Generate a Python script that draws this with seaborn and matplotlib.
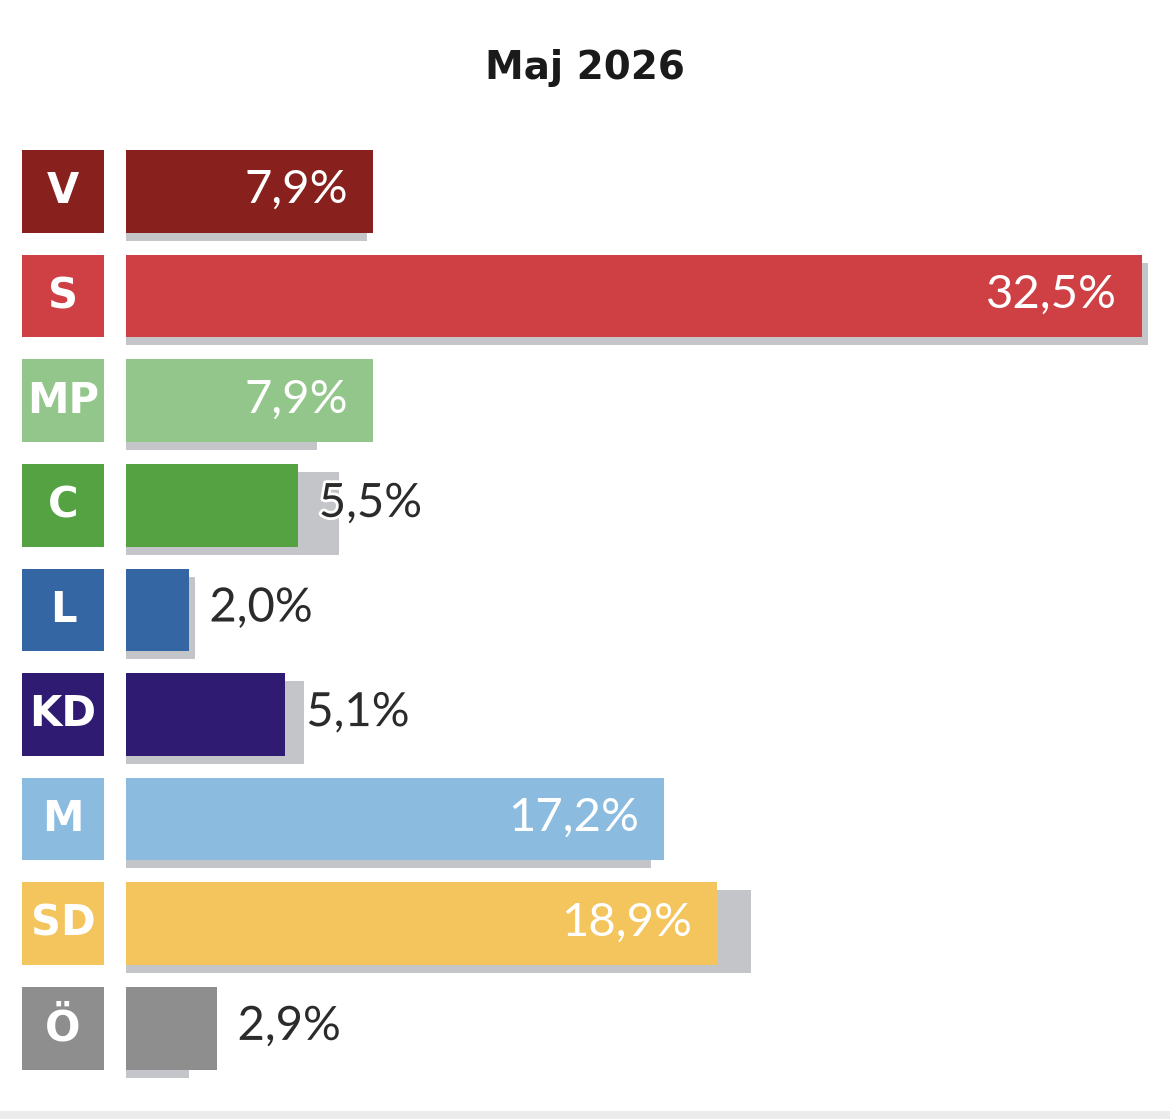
import numpy as np
import pandas as pd
import seaborn as sns
import matplotlib.pyplot as plt
import matplotlib.patheffects as pe
from matplotlib.transforms import ScaledTranslation
from matplotlib.patches import Rectangle

# Data
parties = ['V', 'S', 'MP', 'C', 'L', 'KD', 'M', 'SD', 'Ö']
current = [7.9, 32.5, 7.9, 5.5, 2.0, 5.1, 17.2, 18.9, 2.9]
previous = [7.7, 32.7, 6.1, 6.8, 2.2, 5.7, 16.8, 20.0, 2.0]
colors = ['#88211e', '#cf4044', '#93c68a', '#55a243', '#3566a4',
          '#2f1c72', '#8bbbde', '#f4c45d', '#8e8e8e']
title = 'Maj 2026'

df = pd.DataFrame({'party': parties, 'current': current, 'previous': previous})
palette = dict(zip(parties, colors))

sns.set_style('white')
plt.rcParams['font.family'] = ['DejaVu Sans']

W, H, DPI = 1170, 1119, 100
fig = plt.figure(figsize=(W / DPI, H / DPI), dpi=DPI)

# layout in pixels
top_px, bot_px = 130, 1090
first_c, pitch = 191.5, 104.6
px_per_pct = 31.26
ylim = ((bot_px - first_c) / pitch, (top_px - first_c) / pitch)
ax_rect_y = (1 - bot_px / H, (bot_px - top_px) / H)

ax = fig.add_axes([126 / W, ax_rect_y[0], (W - 126) / W, ax_rect_y[1]])
box_ax = fig.add_axes([22 / W, ax_rect_y[0], 82 / W, ax_rect_y[1]])

# previous (grey shadow), shifted 8 px down
sns.barplot(data=df, x='previous', y='party', color='#c4c5c8', width=0.79,
            saturation=1, ax=ax)
shift = ScaledTranslation(0, -8 / DPI, fig.dpi_scale_trans)
for p in ax.patches:
    p.set_transform(ax.transData + shift)
    p.set_edgecolor('none')
n_prev = len(ax.patches)

# current
sns.barplot(data=df, x='current', y='party', hue='party', palette=palette,
            width=0.79, saturation=1, legend=False, ax=ax)
for p in ax.patches[n_prev:]:
    p.set_edgecolor('none')

ax.set_xlim(0, (W - 126) / px_per_pct)
ax.set_ylim(*ylim)
ax.axis('off')

# value labels
lab_font = dict(fontsize=34, family=['Lato', 'DejaVu Sans'], fontweight='normal')
for i, v in enumerate(current):
    txt = f'{v:.1f}%'.replace('.', ',')
    if v >= 7:
        ax.annotate(txt, (v, i), xytext=(-18, 1), textcoords='offset points',
                    ha='right', va='center', color='white', **lab_font)
    else:
        t = ax.annotate(txt, (v, i), xytext=(15, 1), textcoords='offset points',
                        ha='left', va='center', color='#2b2b2b', **lab_font)
        t.set_path_effects([pe.withStroke(linewidth=4, foreground='white')])

# party boxes
sns.barplot(x=[1] * len(parties), y=parties, hue=parties, palette=palette,
            width=0.79, saturation=1, legend=False, ax=box_ax)
for p in box_ax.patches:
    p.set_edgecolor('none')
box_ax.set_xlim(0, 1)
box_ax.set_ylim(*ylim)
box_ax.axis('off')
for i, name in enumerate(parties):
    box_ax.text(0.5, i, name, ha='center', va='center', color='white',
                fontsize=30, fontweight='bold')

fig.text(585 / W, 1 - 68 / H, title, ha='center', va='center',
         fontsize=28, fontweight='bold', color='#1a1a1a')

# light strip at the bottom
fig.patches.append(Rectangle((0, 0), 1, 8 / H, transform=fig.transFigure,
                             facecolor='#ebebeb', edgecolor='none'))

fig.savefig('out.png', dpi=DPI)
